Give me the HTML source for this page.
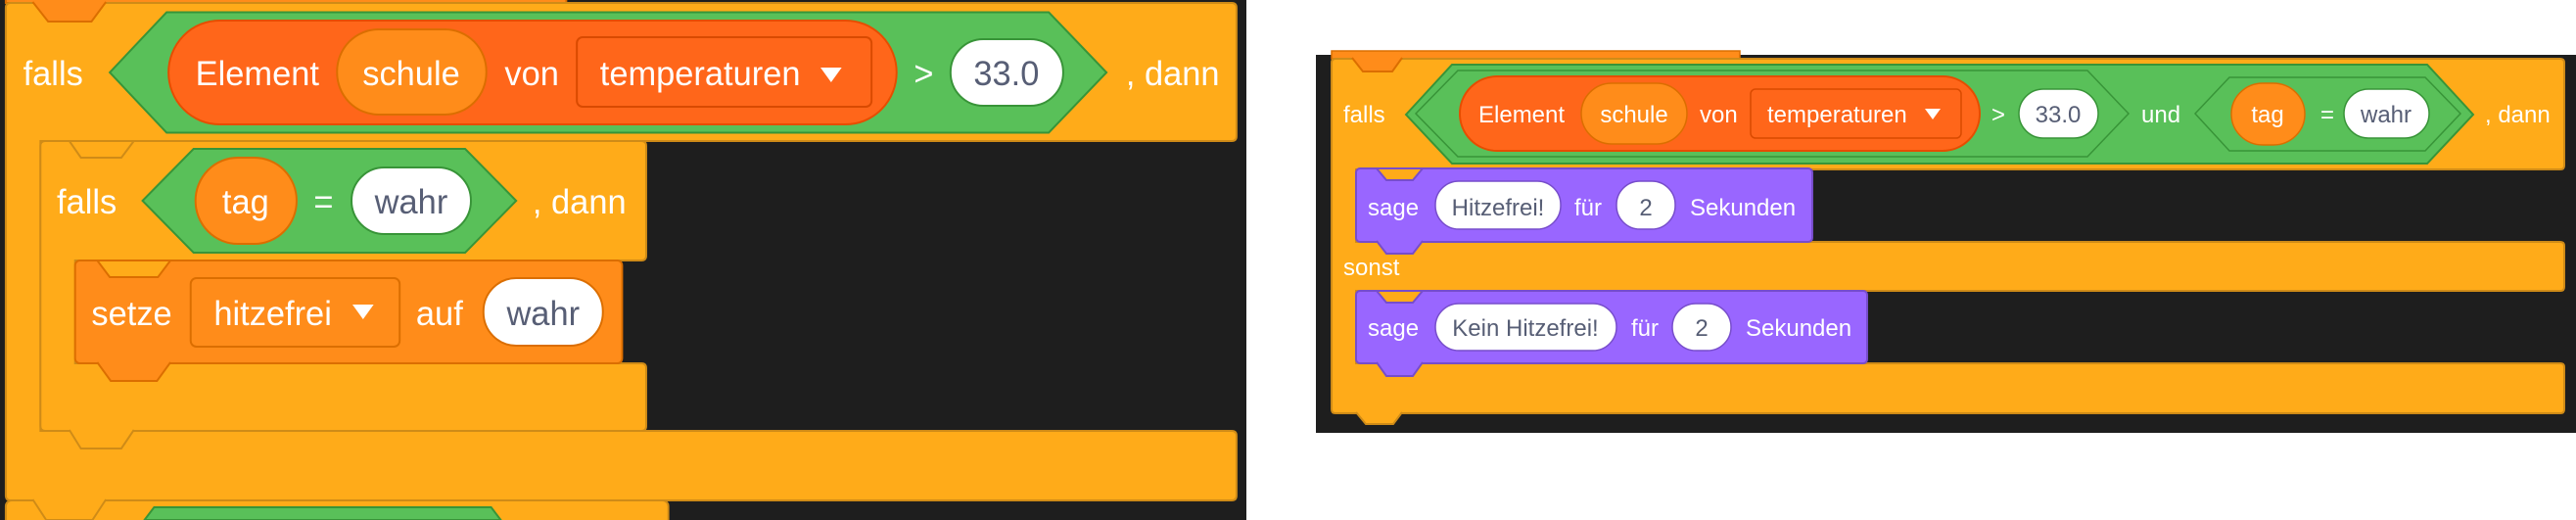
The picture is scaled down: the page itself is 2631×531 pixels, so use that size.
<!DOCTYPE html>
<html><head><meta charset="utf-8"><style>
html,body{margin:0;padding:0;background:#fff;}
svg{display:block}
text{font-family:"Liberation Sans",Arial,sans-serif;fill:#fff}
.L{font-size:35px}
.R{font-size:24px}
.d{fill:#575E75}
</style></head><body>
<svg width="2631" height="531" viewBox="0 0 2631 531" xmlns="http://www.w3.org/2000/svg">
<rect x="0" y="0" width="2631" height="531" fill="#fff"/>
<!-- LEFT PANEL -->
<rect x="0" y="0" width="1273" height="531" fill="#1e1e1e"/>
<g transform="scale(0.9836,1)">
<!-- previous block top -->
<rect x="6" y="-6" width="582" height="9" fill="#FF8C1A" stroke="#DB6E00" stroke-width="2"/>
<!-- next block -->
<rect x="6" y="511" width="688" height="40" rx="6" fill="#FFAB19" stroke="#CF8B17" stroke-width="2"/>
<polygon points="150,531 160,518 510,518 520,531" fill="#59C059" stroke="#389438" stroke-width="2"/>
<!-- outer falls C -->
<path d="M6,8 Q6,3 11,3 H1279 Q1284,3 1284,8 V139 Q1284,144 1279,144 H42 V440 H1279 Q1284,440 1284,445 V506 Q1284,511 1279,511 H11 Q6,511 6,506 Z" fill="#FFAB19" stroke="#CF8B17" stroke-width="2"/>
<path d="M34,2 L50,22 H95 L110,2" fill="#FF8C1A" stroke="#DB6E00" stroke-width="2"/>
<!-- inner falls C -->
<path d="M42,149 Q42,144 47,144 H666 Q671,144 671,149 V261 Q671,266 666,266 H78 V371 H666 Q671,371 671,376 V435 Q671,440 666,440 H47 Q42,440 42,435 Z" fill="#FFAB19" stroke="#CF8B17" stroke-width="2"/>
<path d="M72,144 L84,161 H126 L139,144 Z" fill="#FFAB19" stroke="#CF8B17" stroke-width="2"/>
<path d="M72,439 L84,458 H126 L139,439" fill="#FFAB19" stroke="#CF8B17" stroke-width="2"/>
<path d="M34,510 L48,531 H96 L110,510" fill="#FFAB19" stroke="#CF8B17" stroke-width="2"/>
<!-- setze -->
<rect x="78" y="266" width="568" height="105" rx="5" fill="#FF8C1A" stroke="#DB6E00" stroke-width="2"/>
<path d="M101,266 L114,283 H164 L177,266 Z" fill="#FFAB19" stroke="#DB6E00" stroke-width="2"/>
<path d="M101,370 L115,389 H163 L177,370" fill="#FF8C1A" stroke="#DB6E00" stroke-width="2"/>
<text class="L" x="95" y="332">setze</text>
<rect x="198" y="284" width="217" height="70" rx="6" fill="#FF8C1A" stroke="#DB6E00" stroke-width="2"/>
<text class="L" x="222" y="332">hitzefrei</text>
<polygon points="366,311 388,311 377,326" fill="#fff"/>
<text class="L" x="432" y="332">auf</text>
<rect x="502" y="284" width="124" height="69" rx="34" fill="#fff" stroke="#DB6E00" stroke-width="2"/>
<text class="L d" x="564" y="332" text-anchor="middle">wahr</text>
<!-- outer condition -->
<text class="L" x="24" y="87">falls</text>
<polygon points="114,74 173,12.5 1089,12.5 1149,74 1089,135.5 173,135.5" fill="#59C059" stroke="#389438" stroke-width="2"/>
<rect x="175" y="21" width="756" height="106" rx="53" fill="#FF661A" stroke="#E64D00" stroke-width="2"/>
<text class="L" x="203" y="87">Element</text>
<rect x="350" y="30" width="155" height="87" rx="43" fill="#FF8C1A" stroke="#DB6E00" stroke-width="2"/>
<text class="L" x="427" y="87" text-anchor="middle">schule</text>
<text class="L" x="524" y="87">von</text>
<rect x="599" y="38" width="306" height="71" rx="6" fill="#FF661A" stroke="#D94A00" stroke-width="2"/>
<text class="L" x="623" y="87">temperaturen</text>
<polygon points="852,69 874,69 863,84" fill="#fff"/>
<text class="L" x="949" y="87">&gt;</text>
<rect x="987" y="40" width="117" height="68" rx="34" fill="#fff" stroke="#389438" stroke-width="2"/>
<text class="L d" x="1045" y="87" text-anchor="middle">33.0</text>
<text class="L" x="1169" y="87">, dann</text>
<!-- inner condition -->
<text class="L" x="59" y="218">falls</text>
<polygon points="148,205 201,152 483,152 536,205 483,258 201,258" fill="#59C059" stroke="#389438" stroke-width="2"/>
<rect x="203" y="161" width="105" height="88" rx="44" fill="#FF8C1A" stroke="#DB6E00" stroke-width="2"/>
<text class="L" x="255" y="218" text-anchor="middle">tag</text>
<text class="L" x="336" y="218" text-anchor="middle">=</text>
<rect x="365" y="171" width="124" height="68" rx="34" fill="#fff" stroke="#389438" stroke-width="2"/>
<text class="L d" x="427" y="218" text-anchor="middle">wahr</text>
<text class="L" x="553" y="218">, dann</text>
</g>

<!-- RIGHT PANEL -->
<rect x="1344" y="56" width="1287" height="386" fill="#1e1e1e"/>
<rect x="1360" y="52" width="417" height="8" fill="#FF8C1A" stroke="#DB6E00" stroke-width="1.5"/>
<path d="M1360,64 Q1360,60 1364,60 H2615 Q2619,60 2619,64 V169 Q2619,173 2615,173 H1385 V247 H2615 Q2619,247 2619,251 V293 Q2619,297 2615,297 H1385 V371 H2615 Q2619,371 2619,375 V418 Q2619,422 2615,422 H1364 Q1360,422 1360,418 Z" fill="#FFAB19" stroke="#CF8B17" stroke-width="2"/>
<path d="M1381,59 L1392,73 H1422 L1432,59" fill="#FF8C1A" stroke="#DB6E00" stroke-width="2"/>
<path d="M1385,421 L1395,433 H1423 L1432,421" fill="#FFAB19" stroke="#CF8B17" stroke-width="2"/>
<!-- sage 1 -->
<rect x="1385" y="172" width="466" height="75" rx="4" fill="#9966FF" stroke="#774DCB" stroke-width="2"/>
<path d="M1406,172 L1416,184 H1443 L1453,172 Z" fill="#FFAB19" stroke="#774DCB" stroke-width="2"/>
<path d="M1406,246 L1416,259 H1443 L1453,246" fill="#9966FF" stroke="#774DCB" stroke-width="2"/>
<text class="R" x="1397" y="220">sage</text>
<rect x="1466" y="185" width="128" height="49" rx="24" fill="#fff" stroke="#774DCB" stroke-width="1.5"/>
<text class="R d" x="1530" y="220" text-anchor="middle">Hitzefrei!</text>
<text class="R" x="1608" y="220">für</text>
<rect x="1651" y="185" width="60" height="49" rx="24" fill="#fff" stroke="#774DCB" stroke-width="1.5"/>
<text class="R d" x="1681" y="220" text-anchor="middle">2</text>
<text class="R" x="1726" y="220">Sekunden</text>
<text class="R" x="1372" y="281">sonst</text>
<!-- sage 2 -->
<rect x="1385" y="297" width="522" height="74" rx="4" fill="#9966FF" stroke="#774DCB" stroke-width="2"/>
<path d="M1406,297 L1416,309 H1443 L1453,297 Z" fill="#FFAB19" stroke="#774DCB" stroke-width="2"/>
<path d="M1406,370 L1416,384 H1443 L1453,370" fill="#9966FF" stroke="#774DCB" stroke-width="2"/>
<text class="R" x="1397" y="343">sage</text>
<rect x="1466" y="310" width="185" height="48" rx="24" fill="#fff" stroke="#774DCB" stroke-width="1.5"/>
<text class="R d" x="1558" y="343" text-anchor="middle">Kein Hitzefrei!</text>
<text class="R" x="1666" y="343">für</text>
<rect x="1708" y="310" width="60" height="48" rx="24" fill="#fff" stroke="#774DCB" stroke-width="1.5"/>
<text class="R d" x="1738" y="343" text-anchor="middle">2</text>
<text class="R" x="1783" y="343">Sekunden</text>
<!-- condition -->
<text class="R" x="1372" y="125">falls</text>
<polygon points="1436,117 1483,66 2479,66 2526,117 2479,167 1483,167" fill="#59C059" stroke="#389438" stroke-width="2"/>
<polygon points="1446,116 1489,72 2132,72 2174,116 2132,160 1489,160" fill="#59C059" stroke="#389438" stroke-width="1.5"/>
<rect x="1491" y="78" width="531" height="76" rx="38" fill="#FF661A" stroke="#E64D00" stroke-width="2"/>
<text class="R" x="1510" y="125">Element</text>
<rect x="1615" y="85" width="108" height="62" rx="31" fill="#FF8C1A" stroke="#DB6E00" stroke-width="1.5"/>
<text class="R" x="1669" y="125" text-anchor="middle">schule</text>
<text class="R" x="1736" y="125">von</text>
<rect x="1788" y="91" width="215" height="50" rx="5" fill="#FF661A" stroke="#D94A00" stroke-width="1.5"/>
<text class="R" x="1805" y="125">temperaturen</text>
<polygon points="1966,111 1982,111 1974,122" fill="#fff"/>
<text class="R" x="2034" y="125">&gt;</text>
<rect x="2062" y="91" width="81" height="50" rx="25" fill="#fff" stroke="#389438" stroke-width="1.5"/>
<text class="R d" x="2102" y="125" text-anchor="middle">33.0</text>
<text class="R" x="2187" y="125">und</text>
<polygon points="2242,116 2277,79 2477,79 2513,116 2477,154 2277,154" fill="#59C059" stroke="#389438" stroke-width="1.5"/>
<rect x="2279" y="85" width="75" height="63" rx="32" fill="#FF8C1A" stroke="#DB6E00" stroke-width="1.5"/>
<text class="R" x="2316" y="125" text-anchor="middle">tag</text>
<text class="R" x="2377" y="125" text-anchor="middle">=</text>
<rect x="2394" y="91" width="87" height="50" rx="25" fill="#fff" stroke="#389438" stroke-width="1.5"/>
<text class="R d" x="2437" y="125" text-anchor="middle">wahr</text>
<text class="R" x="2538" y="125">, dann</text>
</svg>
</body></html>
